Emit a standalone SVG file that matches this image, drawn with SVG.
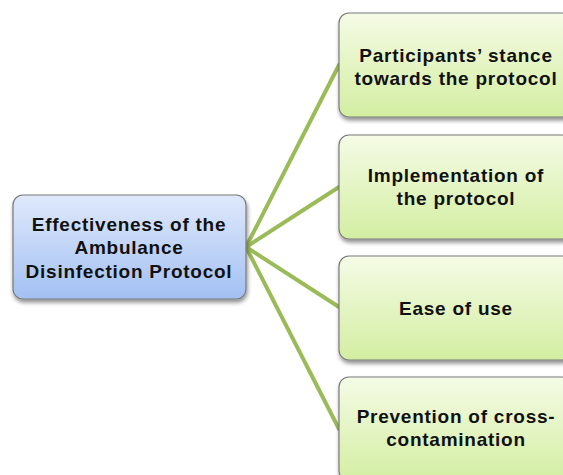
<svg xmlns="http://www.w3.org/2000/svg" width="563" height="475" viewBox="0 0 563 475">
<defs>
<linearGradient id="gb" x1="0" y1="0" x2="0" y2="1"><stop offset="0" stop-color="#dfe9fb"/><stop offset="1" stop-color="#a3c0f3"/></linearGradient>
<linearGradient id="gg" x1="0" y1="0" x2="0" y2="1"><stop offset="0" stop-color="#f5fbe6"/><stop offset="1" stop-color="#d3eea2"/></linearGradient>
<filter id="sh" x="-10%" y="-10%" width="130%" height="130%"><feGaussianBlur in="SourceAlpha" stdDeviation="2"/><feOffset dx="1" dy="3"/><feComponentTransfer><feFuncA type="linear" slope="0.45"/></feComponentTransfer><feMerge><feMergeNode/><feMergeNode in="SourceGraphic"/></feMerge></filter>
<style>
.box{stroke:#7a7a7a;stroke-width:1.2;filter:url(#sh)}
.t{font-family:"Liberation Sans",Arial,sans-serif;font-weight:bold;font-size:19px;letter-spacing:0.75px;fill:#111;text-anchor:middle}
.c{stroke:#9bbb59;stroke-width:4;fill:none;stroke-linecap:round}
</style>
</defs>
<rect width="563" height="475" fill="#fff"/>
<g id="connectors">
<line class="c" x1="246" y1="247" x2="339" y2="65"/>
<line class="c" x1="246" y1="247" x2="339" y2="187"/>
<line class="c" x1="246" y1="247" x2="339" y2="307"/>
<line class="c" x1="246" y1="247" x2="339" y2="429"/>
</g>
<g id="root">
<rect class="box" x="13" y="195" width="233" height="104" rx="10" fill="url(#gb)"/>
<text class="t" x="129" y="231">Effectiveness of the</text>
<text class="t" x="129" y="254">Ambulance</text>
<text class="t" x="129" y="278">Disinfection Protocol</text>
</g>
<g id="n1">
<rect class="box" x="339" y="13" width="233" height="104" rx="10" fill="url(#gg)"/>
<text class="t" x="456" y="62">Participants’ stance</text>
<text class="t" x="456" y="85">towards the protocol</text>
</g>
<g id="n2">
<rect class="box" x="339" y="135" width="233" height="104" rx="10" fill="url(#gg)"/>
<text class="t" x="456" y="182">Implementation of</text>
<text class="t" x="456" y="205">the protocol</text>
</g>
<g id="n3">
<rect class="box" x="339" y="256" width="233" height="104" rx="10" fill="url(#gg)"/>
<text class="t" x="456" y="315">Ease of use</text>
</g>
<g id="n4">
<rect class="box" x="339" y="377" width="233" height="104" rx="10" fill="url(#gg)"/>
<text class="t" x="456" y="423">Prevention of cross-</text>
<text class="t" x="456" y="446">contamination</text>
</g>
</svg>
